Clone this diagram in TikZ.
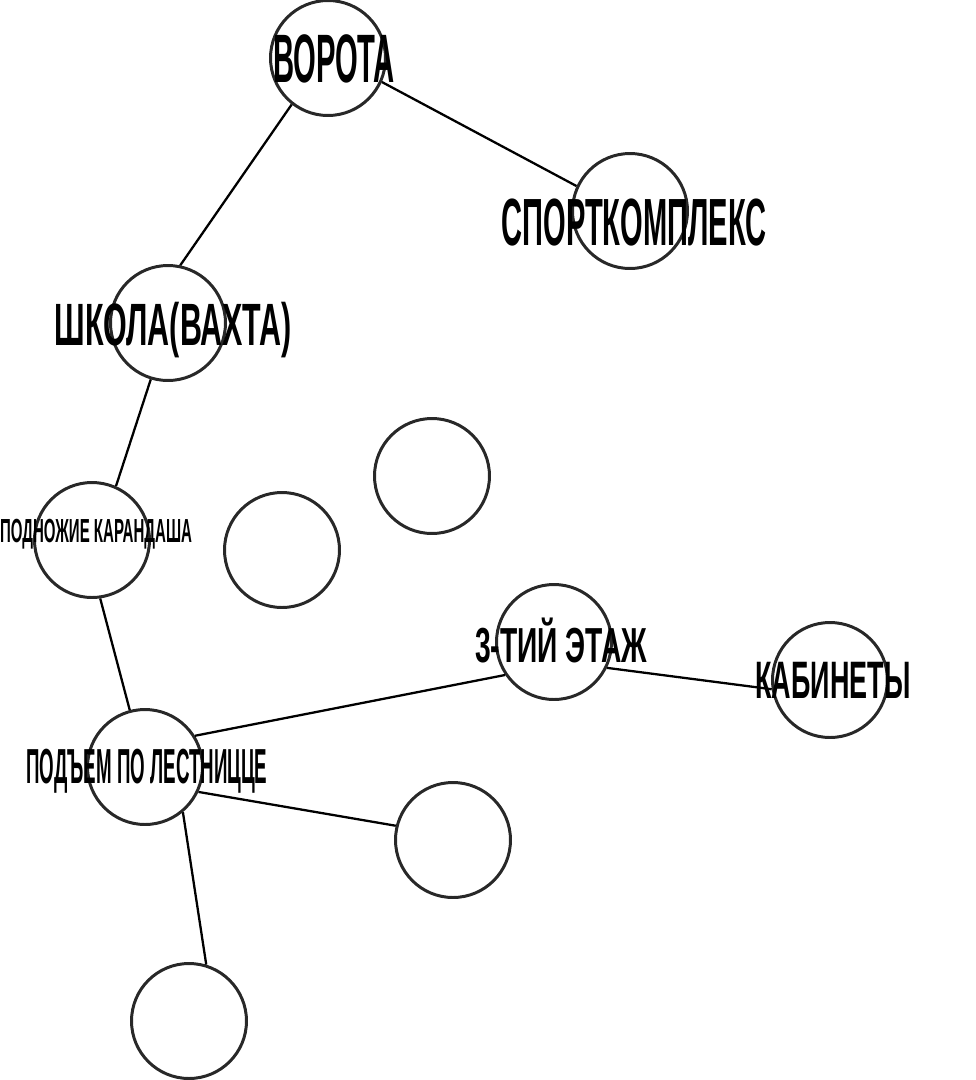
\documentclass[tikz,border=0pt]{standalone}
\usepackage{fontspec}
\newfontfamily\sketchfont[FakeStretch=0.42]{Liberation Sans}
\usepackage{graphicx}
\usepackage{tikz}
\usetikzlibrary{positioning}
\usepackage{xcolor}
\definecolor{pencil}{RGB}{40,40,40}

% label squeezed to a given width
\newcommand{\sketchtext}[3]{\resizebox{#1}{\height}{\sketchfont\bfseries\fontsize{#2}{#2}\selectfont #3}}

\tikzset{
  spot/.style={circle,draw=pencil,line width=1.7pt,minimum size=2.3cm,inner sep=0pt},
  tag/.style={anchor=base,inner sep=0pt},
  link/.style={draw=black,line width=1.3pt}
}

\begin{document}
\begin{tikzpicture}[x=0.02cm,y=-0.02cm]
        \useasboundingbox (0,0) rectangle (976,1080);

        % circles
        \node[spot] (vorota) at (328,58) {};
        \node[spot] (sport) at (630,211) {};
        \node[spot] (shkola) at (168,323) {};
        \node[spot] (podnozhie) at (92,540) {};
        \node[spot] (emptyA) at (432,476) {};
        \node[spot] (emptyB) at (282,550) {};
        \node[spot] (etazh) at (554,642) {};
        \node[spot] (kabinety) at (830,680) {};
        \node[spot] (podjem) at (145,767) {};
        \node[spot] (emptyC) at (453,840) {};
        \node[spot] (emptyD) at (189,1021) {};

        % labels
        \node[tag] (vorota-t) at (334,82) {\sketchtext{2.44cm}{39}{ВОРОТА}};
        \node[tag] (sport-t) at (634,245) {\sketchtext{5.3cm}{38}{СПОРТКОМПЛЕКС}};
        \node[tag] (shkola-t) at (173,345) {\sketchtext{4.74cm}{34}{ШКОЛА(ВАХТА)}};
        \node[tag] (podnozhie-t) at (96,542) {\sketchtext{3.84cm}{19}{ПОДНОЖИЕ КАРАНДАША}};
        \node[tag] (podjem-t) at (147,783) {\sketchtext{4.82cm}{28}{ПОДЪЕМ ПО ЛЕСТНИЦЦЕ}};
        \node[tag] (etazh-t) at (561,662) {\sketchtext{3.44cm}{28}{3-ТИЙ ЭТАЖ}};
        \node[tag] (kabinety-t) at (833,698) {\sketchtext{3.1cm}{30}{КАБИНЕТЫ}};

        % connectors
        \draw[link] (vorota.336) -- (sport.155);
        \draw[link] (vorota.232) -- (shkola.78);
        \draw[link] (shkola.253) -- (podnozhie.66);
        \draw[link] (podnozhie.278) -- (podjem.105);
        \draw[link] (podjem.32) -- (etazh.214);
        \draw[link] (etazh.334) -- (kabinety.189);
        \draw[link] (podjem.335) -- (emptyC.166);
        \draw[link] (podjem.310) -- (emptyD.73);
\end{tikzpicture}
\end{document}
